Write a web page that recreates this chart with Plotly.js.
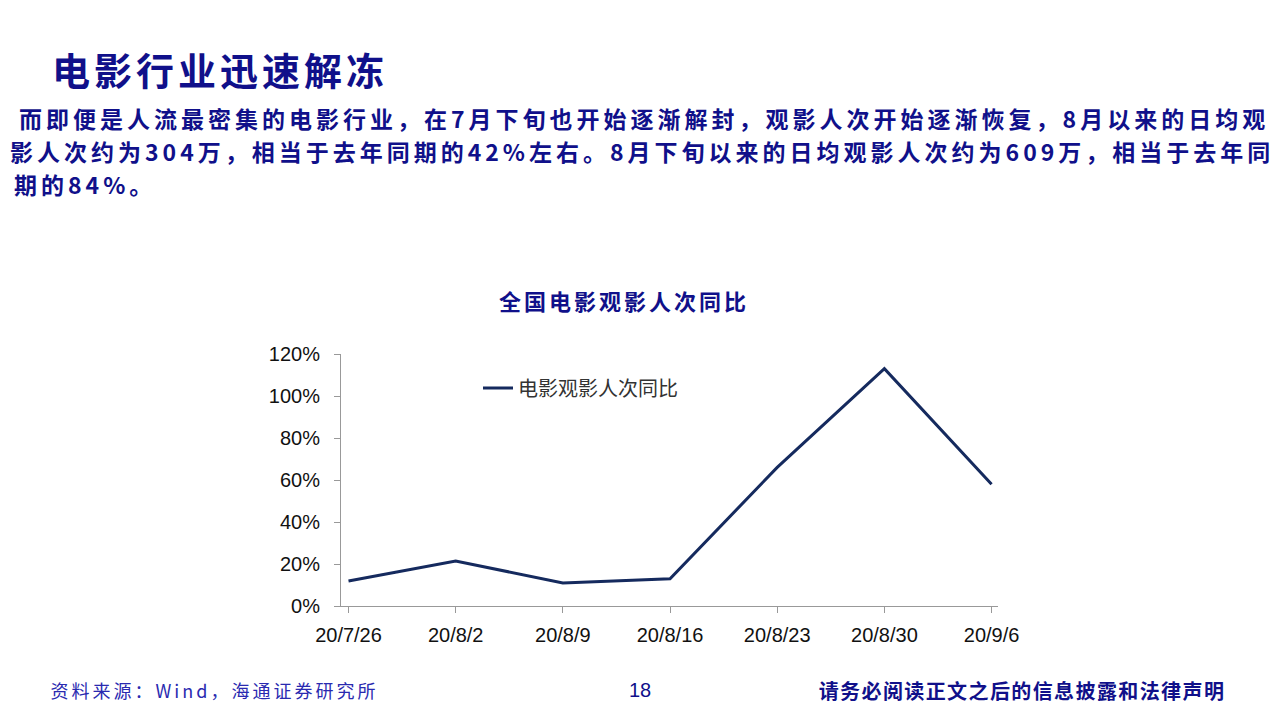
<!DOCTYPE html>
<html><head><meta charset="utf-8">
<script src="https://cdn.plot.ly/plotly-3.0.1.min.js"></script>
<style>
html,body{margin:0;padding:0;background:#fff;}#chart{width:1280px;height:720px;}
.annotation[data-index="0"] .annotation-text{letter-spacing:4px;}
.annotation[data-index="1"] .annotation-text{letter-spacing:3px;}
.annotation[data-index="2"] .annotation-text{letter-spacing:3px;}
.annotation[data-index="4"] .annotation-text{letter-spacing:1.4px;}
.annotation[data-index="5"] .annotation-text,
.annotation[data-index="6"] .annotation-text,
.annotation[data-index="7"] .annotation-text{letter-spacing:4px;}
</style>
</head><body><div id="chart"></div>
<script>
const categories = ["20/7/26","20/8/2","20/8/9","20/8/16","20/8/23","20/8/30","20/9/6"];
const yoyValues = [0.119, 0.214, 0.11, 0.13, 0.66, 1.13, 0.58];
const seriesName = "电影观影人次同比";
const yTickVals = [0, 0.2, 0.4, 0.6, 0.8, 1.0, 1.2];
const yTickText = ["0%","20%","40%","60%","80%","100%","120%"];

const cjk = "'Noto Sans CJK SC', sans-serif";
const navy = "#10108a";
const paraLines = [
  "而即便是人流最密集的电影行业，在7月下旬也开始逐渐解封，观影人次开始逐渐恢复，8月以来的日均观",
  "影人次约为304万，相当于去年同期的42%左右。8月下旬以来的日均观影人次约为609万，相当于去年同",
  "期的84%。"
];
// centre x of each paragraph line (text is centred so the added letter-spacing grows evenly)
const paraX = [644, 642, 85];
const paraY = [118, 151, 184];

const annotations = [
  {text:"电影行业迅速解冻", x:220/1280, y:1-68/720, xref:"paper", yref:"paper", xanchor:"center", yanchor:"middle", showarrow:false, font:{family:cjk, size:38, color:navy, weight:"bold"}},
  {text:"全国电影观影人次同比", x:624/1280, y:1-300/720, xref:"paper", yref:"paper", xanchor:"center", yanchor:"middle", showarrow:false, font:{family:cjk, size:22, color:navy, weight:"bold"}},
  {text:"资料来源：Wind，海通证券研究所", x:214/1280, y:1-690/720, xref:"paper", yref:"paper", xanchor:"center", yanchor:"middle", showarrow:false, font:{family:cjk, size:18, color:"#2a2ab0"}},
  {text:"18", x:640/1280, y:1-690/720, xref:"paper", yref:"paper", xanchor:"center", yanchor:"middle", showarrow:false, font:{family:"Liberation Sans, Arial", size:20, color:navy}},
  {text:"请务必阅读正文之后的信息披露和法律声明", x:1022/1280, y:1-690/720, xref:"paper", yref:"paper", xanchor:"center", yanchor:"middle", showarrow:false, font:{family:cjk, size:20, color:navy, weight:"bold"}}
];
paraLines.forEach((t,i)=>{
  annotations.push({text:t, x:paraX[i]/1280, y:1-paraY[i]/720, xref:"paper", yref:"paper", xanchor:"center", yanchor:"middle", showarrow:false, font:{family:cjk, size:23, color:navy, weight:"bold"}});
});

const trace = {
  x: categories, y: yoyValues, type:"scatter", mode:"lines", name: seriesName,
  line:{color:"#152a5e", width:3}
};

const layout = {
  width:1280, height:720, margin:{l:0,r:0,t:0,b:0},
  paper_bgcolor:"#fff", plot_bgcolor:"#fff",
  showlegend:true,
  legend:{x:478/1280, y:1-388/720, xanchor:"left", yanchor:"middle", bgcolor:"rgba(0,0,0,0)",
    font:{family:cjk, size:20, color:"#333"}, itemwidth:30},
  xaxis:{domain:[341/1280, 998/1280], type:"category", range:[-0.07, 6.06],
    showline:true, linecolor:"#999", linewidth:1, showgrid:false, zeroline:false,
    ticks:"outside", ticklen:6, tickcolor:"#999", ticklabelstandoff:5,
    tickfont:{family:"Liberation Sans, Arial", size:20, color:"#111"}, fixedrange:true},
  yaxis:{domain:[1-606/720, 1-354/720], range:[0,1.2], tickvals:yTickVals, ticktext:yTickText,
    showline:true, linecolor:"#999", linewidth:1, showgrid:false, zeroline:false,
    ticks:"outside", ticklen:6, tickcolor:"#999", ticklabelstandoff:10,
    tickfont:{family:"Liberation Sans, Arial", size:20, color:"#111"}, fixedrange:true},
  annotations: annotations
};

Plotly.newPlot("chart", [trace], layout, {displayModeBar:false, staticPlot:true});
</script>
</body></html>
